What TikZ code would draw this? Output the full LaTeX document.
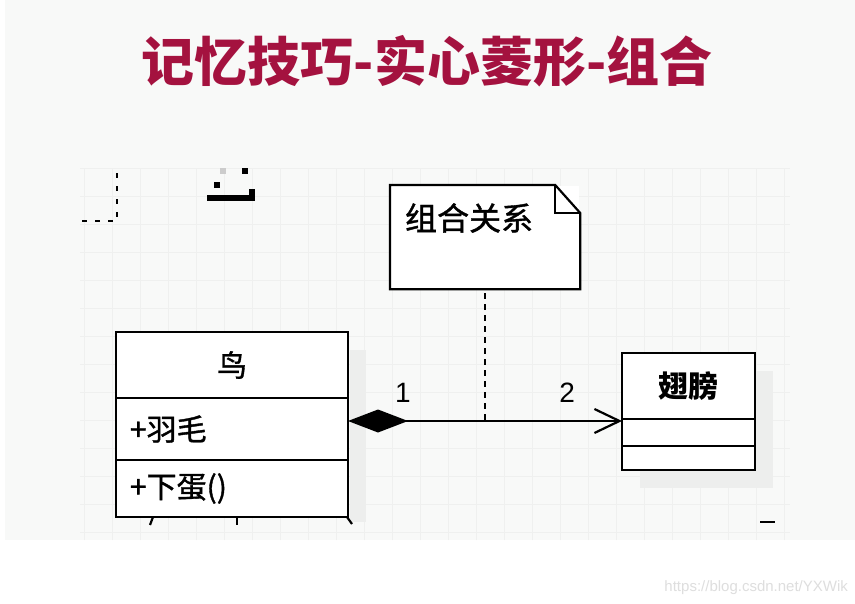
\documentclass[tikz,border=0pt]{standalone}
\usepackage{fontspec}
\setmainfont{Liberation Sans}
\newfontfamily\cjk{Noto Sans CJK SC}
\newfontfamily\cjkbody[FakeBold=1.2]{Noto Sans CJK SC}
\usetikzlibrary{positioning,arrows.meta}
\definecolor{titlered}{HTML}{A4123F}
\definecolor{slidebg}{HTML}{F8F9F8}
\definecolor{gridline}{HTML}{EFF0EF}
\definecolor{shadowgray}{HTML}{EDEEED}

\begin{document}
\begin{tikzpicture}[x=1bp,y=-1bp,line width=2.2bp,
    classpart/.style={draw,rectangle,fill=white,inner sep=0,outer sep=0,
      font=\cjkbody\fontsize{30bp}{36bp}\selectfont},
    birdpart/.style={classpart,minimum width=232bp},
    wingpart/.style={classpart,minimum width=133bp},
    member/.style={birdpart,text width=204bp,align=left},
    composition/.style={draw,{Diamond[length=60bp,width=23bp]}-{Straight Barb[length=25bp,width=24bp]}},
    mult/.style={font=\fontsize{28bp}{32bp}\selectfont,inner sep=0,above=17bp},
    notelink/.style={draw,line width=2.4bp,dash pattern=on 6bp off 5bp}]

  \useasboundingbox (0,0) rectangle (855,604);
  \fill[white] (0,0) rectangle (855,604);
  \fill[slidebg] (5,0) rectangle (855,540);
  \draw[gridline,line width=.6bp,step=28bp] (80,168) grid (790,540);

  \node[font=\cjk\bfseries\fontsize{53bp}{60bp}\selectfont,text=titlered] (title) at (427,61)
    {记忆技巧-实心菱形-组合};

  % cut-off pieces at the edges of the shot
  \draw[line width=2.4bp,dash pattern=on 5bp off 8bp] (82,221) -- (117,221) -- (117,172);
  \fill[gray!40] (220,168) rectangle (226,174);
  \fill (242,168) rectangle (248,174);
  \fill (214,182) rectangle (220,188);
  \fill (207,195) rectangle (255,201);
  \fill (249,189) rectangle (255,201);
  \draw (760,522) -- (775,522);

  \fill[shadowgray] (350,350) rectangle (366,522);
  \fill[shadowgray] (640,371) rectangle (773,488);

  \node[birdpart,minimum height=66bp] (birdname) at (232,332) [anchor=north] {鸟};
  \node[member,minimum height=62bp,below=0 of birdname] (birdattr) {+羽毛};
  \node[member,minimum height=57bp,below=0 of birdattr] (birdop) {+下蛋()};

  \node[wingpart,minimum height=66bp] (wingname) at (688.5,353) [anchor=north] {\cjk\bfseries 翅膀};
  \node[wingpart,minimum height=27bp,below=0 of wingname] (wingattr) {};
  \node[wingpart,minimum height=24bp,below=0 of wingattr] (wingop) {};

  \draw (153,517) -- (150,525);
  \draw (237,517) -- (237,525);
  \draw (347,517) -- (352,524);

  \node[fill=white,minimum width=188bp,minimum height=102bp,anchor=north west] (note) at (390,185) {};
  \draw (note.north west) -- ([xshift=-25bp]note.north east) -- ([yshift=-28bp]note.north east)
    -- (note.south east) -- (note.south west) -- cycle;
  \draw ([xshift=-25bp]note.north east) |- ([yshift=-28bp]note.north east);
  \node[font=\cjkbody\fontsize{32bp}{38bp}\selectfont,anchor=west,inner sep=0] (notelabel)
    at ([xshift=14bp,yshift=-33bp]note.north west) {组合关系};

  \coordinate (wingjoin) at ([yshift=-2bp]wingattr.north west);
  \path ([yshift=-4bp]note.south) edge[notelink] (note.south |- wingjoin);
  \path (birdattr.east |- wingjoin) edge[composition]
    node[mult,pos=.2] {1} node[mult,pos=.8] {2} (wingjoin);

  \node[font=\fontsize{15bp}{18bp}\selectfont,text=black!13,anchor=east,inner sep=0] (mark)
    at (849,588) {https://blog.csdn.net/YXWik};
\end{tikzpicture}
\end{document}
